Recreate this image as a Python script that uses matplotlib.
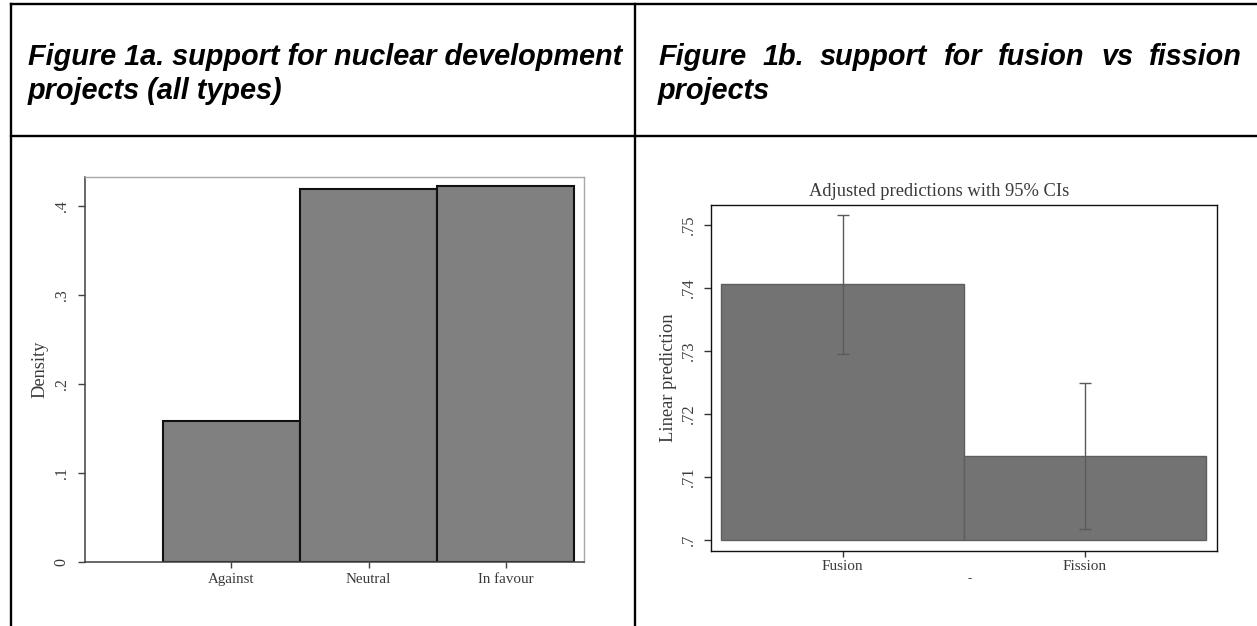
import matplotlib
matplotlib.use("Agg")
import matplotlib.pyplot as plt
from matplotlib.lines import Line2D

# ---------------- data ----------------
cats_a = ["Against", "Neutral", "In favour"]
density_a = [0.158, 0.419, 0.422]
yticks_a = [0, 0.1, 0.2, 0.3, 0.4]
yticklabels_a = ["0", ".1", ".2", ".3", ".4"]

cats_b = ["Fusion", "Fission"]
pred_b = [0.7406, 0.7133]
ci_low_b = [0.7296, 0.7018]
ci_high_b = [0.7516, 0.7249]
yticks_b = [0.70, 0.71, 0.72, 0.73, 0.74, 0.75]
yticklabels_b = [".7", ".71", ".72", ".73", ".74", ".75"]

heading_a = ["Figure 1a. support for nuclear development", "projects (all types)"]
heading_b1 = ["Figure", "1b.", "support", "for", "fusion", "vs", "fission"]
heading_b2 = "projects"

# ---------------- figure ----------------
W, H = 1257, 626
fig = plt.figure(figsize=(W / 100, H / 100), dpi=100)
fig.patch.set_facecolor("white")

def fx(x):
    return x / W

def fy(y):
    return 1 - y / H

def add_ax(l, t, r, b):
    return fig.add_axes([fx(l), fy(b), (r - l) / W, (b - t) / H])

SERIF = ["Liberation Serif", "DejaVu Serif"]
SANS = ["Liberation Sans", "DejaVu Sans"]
TXT = "#3a3a3a"

# table lines
lw_tab = 1.7
fig.add_artist(Line2D([fx(11), 1], [fy(4), fy(4)], color="black", lw=lw_tab))
fig.add_artist(Line2D([fx(11), 1], [fy(136), fy(136)], color="black", lw=lw_tab))
fig.add_artist(Line2D([fx(11), fx(11)], [fy(4), 0], color="black", lw=lw_tab))
fig.add_artist(Line2D([fx(635), fx(635)], [fy(4), 0], color="black", lw=lw_tab))

# headings
hsize = 20.8
hkw = dict(fontsize=hsize, fontweight="bold", fontstyle="italic",
           family=SANS, va="baseline", ha="left")
fig.text(fx(28), fy(65), heading_a[0], **hkw)
fig.text(fx(28), fy(99), heading_a[1], **hkw)

renderer = fig.canvas.get_renderer()
words = [fig.text(0, fy(65), w, **hkw) for w in heading_b1]
widths = [t.get_window_extent(renderer).width for t in words]
x0, x1 = 658, 1242
gap = (x1 - x0 - sum(widths)) / (len(words) - 1)
xc = x0
for t, wd in zip(words, widths):
    t.set_x(fx(xc))
    xc += wd + gap
fig.text(fx(658), fy(99), heading_b2, **hkw)

# ---------------- chart a ----------------
axa = add_ax(85, 177.3, 583.5, 562)
pos_a = [1, 2, 3]
axa.bar(pos_a, density_a, width=1.0, color="#808080", edgecolor="#111111",
        linewidth=1.5, zorder=2)
axa.set_xlim(-0.069, 3.569)
axa.set_ylim(0, 0.4322)
axa.set_yticks(yticks_a)
axa.set_yticklabels(yticklabels_a, rotation=90, va="center", family=SERIF,
                    fontsize=11.5, color=TXT)
axa.set_xticks(pos_a)
axa.set_xticklabels(cats_a, family=SERIF, fontsize=10.8, color=TXT)
axa.set_ylabel("Density", family=SERIF, fontsize=13.2, color=TXT, labelpad=4)
for s in ["left", "bottom"]:
    axa.spines[s].set_color("#404040")
    axa.spines[s].set_linewidth(1.1)
for s in ["top", "right"]:
    axa.spines[s].set_color("#a8a8a8")
    axa.spines[s].set_linewidth(1.0)
axa.tick_params(axis="y", length=5, width=1, color="#404040", pad=6)
axa.tick_params(axis="x", length=4, width=1, color="#404040", pad=4)

# ---------------- chart b ----------------
axb = add_ax(711, 205, 1216.7, 550.7)
pos_b = [0, 1]
base = 0.70
heights = [p - base for p in pred_b]
axb.bar(pos_b, heights, bottom=base, width=1.0, color="#737373",
        edgecolor="#5e5e5e", linewidth=1.0, zorder=2)
err_lo = [p - l for p, l in zip(pred_b, ci_low_b)]
err_hi = [h - p for p, h in zip(pred_b, ci_high_b)]
axb.errorbar(pos_b, pred_b, yerr=[err_lo, err_hi], fmt="none",
             ecolor="#5a5a5a", elinewidth=1.0, capsize=4.5, capthick=1.0,
             zorder=3)
axb.set_xlim(-0.543, 1.543)
axb.set_ylim(0.6983, 0.7532)
axb.set_yticks(yticks_b)
axb.set_yticklabels(yticklabels_b, rotation=90, va="center", family=SERIF,
                    fontsize=11.8, color=TXT)
axb.set_xticks(pos_b)
axb.set_xticklabels(cats_b, family=SERIF, fontsize=11, color=TXT)
axb.set_ylabel("Linear prediction", family=SERIF, fontsize=13.3, color=TXT,
               labelpad=3)
for s in axb.spines.values():
    s.set_color("#111111")
    s.set_linewidth(1.0)
axb.tick_params(axis="y", length=5, width=1, color="#333333", pad=5)
axb.tick_params(axis="x", length=4, width=1, color="#333333", pad=3)

fig.text(fx(939), fy(191.6), "Adjusted predictions with 95% CIs",
         family=SERIF, fontsize=13.3, color=TXT, ha="center", va="center")
fig.text(fx(970), fy(579), "-", family=SERIF, fontsize=9, color=TXT,
         ha="center", va="center")

fig.savefig("out.png", dpi=100, facecolor="white")
